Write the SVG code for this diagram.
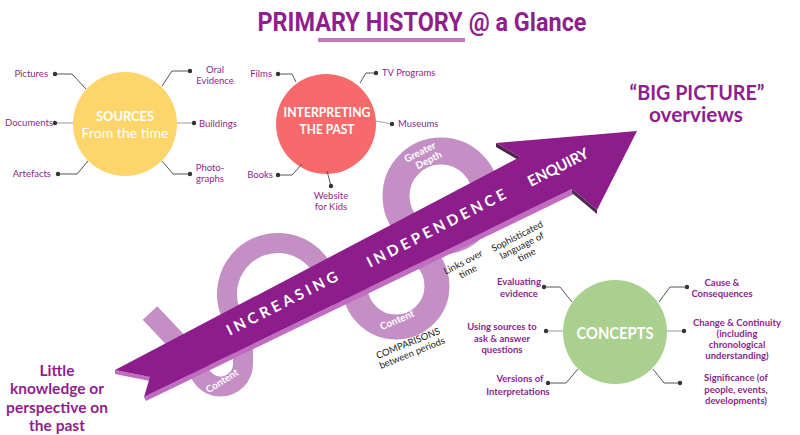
<svg xmlns="http://www.w3.org/2000/svg" width="800" height="435" viewBox="0 0 800 435">
<style>
.t{font-family:Lato,"Liberation Sans",sans-serif;fill:#8e1f8c}
.lbl{font-size:9.5px}
.clb{font-size:9.5px;font-weight:700}
.w{fill:#fff;font-family:Lato,"Liberation Sans",sans-serif;font-weight:700}
.blk{font-family:Lato,"Liberation Sans",sans-serif;font-size:9.5px;fill:#222}
.ld{stroke:#555;stroke-width:1;fill:none}
.lg{stroke:#aaa;stroke-width:1.2;fill:none}
.dot{fill:#333}
.ring{fill:none;stroke:#c48fc4}
</style>
<rect width="800" height="435" fill="#fff"/>

<g id="title">
<text x="422" y="31" text-anchor="middle" font-family="Roboto,'Liberation Sans',sans-serif" font-weight="700" font-size="25" fill="#8e1f8c" textLength="329" lengthAdjust="spacingAndGlyphs">PRIMARY HISTORY @ a Glance</text>
<rect x="318" y="38" width="147" height="4" fill="#c07bc0"/>
</g>

<g id="spiral">
<path class="ring" stroke-width="20" d="M150,313 L198,364 A22,22 0 0 0 243,364 L243,331 A51,51 0 1 1 329,294 L342,296"/>
<circle class="ring" stroke-width="25" cx="396" cy="286" r="41"/>
<circle class="ring" stroke-width="27" cx="441" cy="196" r="45"/>
</g>

<g id="arrow">
<polygon points="115,370 150,377 150,381 115,374" fill="#c06cc0"/>
<polygon points="144,397 572,189 574,194 146,401" fill="#c06cc0"/>
<polygon points="496,143 520,157 520,161 496,147" fill="#4a2a4a"/>
<polygon points="572,189 597,210 597,214 572,193" fill="#4a2a4a"/>
<polygon points="115,370 520,157 496,143 637,131 597,210 572,189 144,397 150,377" fill="#8c1d8a"/>
<g transform="translate(282,303) rotate(-27)"><text class="w" x="0" y="5.5" font-size="15" text-anchor="middle" textLength="123" lengthAdjust="spacing">INCREASING</text></g>
<g transform="translate(436,228) rotate(-27)"><text class="w" x="0" y="5.5" font-size="15" text-anchor="middle" textLength="154" lengthAdjust="spacing">INDEPENDENCE</text></g>
<g transform="translate(558,167) rotate(-27)"><text class="w" x="0" y="5.5" font-size="15" text-anchor="middle" textLength="66" lengthAdjust="spacing">ENQUIRY</text></g>
</g>

<g id="ring-labels">
<g transform="translate(222,381) rotate(-32)"><text class="w" x="0" y="3.5" font-size="10" text-anchor="middle">Content</text></g>
<g transform="translate(397,320) rotate(-23)"><text class="w" x="0" y="3.5" font-size="10" text-anchor="middle">Content</text></g>
<g transform="translate(420,152) rotate(-27)"><text class="w" x="0" y="3.5" font-size="10" text-anchor="middle">Greater</text><text class="w" x="4" y="14.5" font-size="10" text-anchor="middle">Depth</text></g>
</g>

<g id="arrow-notes">
<g transform="translate(463,262) rotate(-27)"><text class="blk" x="0" y="3.5" text-anchor="middle">Links over</text><text class="blk" x="0" y="14" text-anchor="middle">time</text></g>
<g transform="translate(517,236) rotate(-27)"><text class="blk" x="0" y="3.5" text-anchor="middle">Sophisticated</text><text class="blk" x="0" y="14" text-anchor="middle">language of</text><text class="blk" x="0" y="24.5" text-anchor="middle">time</text></g>
<g transform="translate(408,343) rotate(-22)"><text class="blk" x="0" y="3.5" text-anchor="middle">COMPARISONS</text><text class="blk" x="0" y="14" text-anchor="middle">between periods</text></g>
</g>

<g id="sources">
<circle cx="125" cy="124" r="52" fill="#fdd56b"/>
<text class="w" x="125" y="121" font-size="12.5" text-anchor="middle" textLength="58" lengthAdjust="spacingAndGlyphs">SOURCES</text>
<text x="125" y="138" font-size="12.5" text-anchor="middle" fill="#fff" font-family="Lato,'Liberation Sans',sans-serif" textLength="87" lengthAdjust="spacingAndGlyphs">From the time</text>
<polyline class="ld" points="55,74 72,74 86,89"/><circle class="dot" cx="55" cy="74" r="2.2"/>
<text class="t lbl" x="48" y="77" text-anchor="end">Pictures</text>
<line class="lg" x1="55" y1="123" x2="73" y2="123"/><circle class="dot" cx="55" cy="123" r="2.2"/>
<text class="t lbl" x="53" y="126" text-anchor="end">Documents</text>
<polyline class="ld" points="58,174 77,174 88,161"/><circle class="dot" cx="58" cy="174" r="2.2"/>
<text class="t lbl" x="51" y="177" text-anchor="end">Artefacts</text>
<polyline class="ld" points="162,86 172,71 190,71"/><circle class="dot" cx="190" cy="71" r="2.2"/>
<text class="t lbl" x="215" y="73" text-anchor="middle">Oral</text><text class="t lbl" x="215" y="84" text-anchor="middle">Evidence</text>
<line class="lg" x1="177" y1="123" x2="194" y2="123"/><circle class="dot" cx="194" cy="123" r="2.2"/>
<text class="t lbl" x="199" y="127">Buildings</text>
<polyline class="ld" points="162,161 173,174 190,174"/><circle class="dot" cx="190" cy="174" r="2.2"/>
<text class="t lbl" x="210" y="171" text-anchor="middle">Photo-</text><text class="t lbl" x="210" y="182" text-anchor="middle">graphs</text>
</g>

<g id="interpreting">
<circle cx="326" cy="124" r="50" fill="#f7696a"/>
<text class="w" x="327" y="117" font-size="12.5" text-anchor="middle" textLength="87" lengthAdjust="spacingAndGlyphs">INTERPRETING</text>
<text class="w" x="327" y="134" font-size="12.5" text-anchor="middle" textLength="55" lengthAdjust="spacingAndGlyphs">THE PAST</text>
<polyline class="ld" points="278,74 292,74 296,82"/><circle class="dot" cx="278" cy="74" r="2.2"/>
<text class="t lbl" x="272" y="77" text-anchor="end">Films</text>
<polyline class="ld" points="360,83 366,73 376,73"/><circle class="dot" cx="376" cy="73" r="2.2"/>
<text class="t lbl" x="382" y="76">TV Programs</text>
<line class="lg" x1="376" y1="121" x2="392" y2="124"/><circle class="dot" cx="392" cy="124" r="2.2"/>
<text class="t lbl" x="398" y="127">Museums</text>
<polyline class="ld" points="278,175 292,175 302,164"/><circle class="dot" cx="278" cy="175" r="2.2"/>
<text class="t lbl" x="273" y="178" text-anchor="end">Books</text>
<line class="ld" x1="327" y1="171" x2="331" y2="186"/><circle class="dot" cx="331" cy="186" r="2.2"/>
<text class="t lbl" x="331" y="199" text-anchor="middle">Website</text><text class="t lbl" x="331" y="210" text-anchor="middle">for Kids</text>
</g>

<g id="concepts">
<circle cx="615" cy="332" r="52" fill="#a9d08e"/>
<text class="w" x="615" y="339" font-size="17" text-anchor="middle" textLength="77" lengthAdjust="spacingAndGlyphs">CONCEPTS</text>
<polyline class="ld" points="544,287 560,287 572,302"/><circle class="dot" cx="544" cy="287" r="2.2"/>
<text class="t clb" x="519" y="285" text-anchor="middle">Evaluating</text><text class="t clb" x="519" y="297" text-anchor="middle">evidence</text>
<line class="lg" x1="546" y1="331" x2="563" y2="331"/><circle class="dot" cx="546" cy="331" r="2.2"/>
<text class="t clb" x="502" y="330" text-anchor="middle">Using sources to</text><text class="t clb" x="502" y="342" text-anchor="middle">ask &amp; answer</text><text class="t clb" x="502" y="353" text-anchor="middle">questions</text>
<polyline class="ld" points="548,383 566,383 578,369"/><circle class="dot" cx="548" cy="383" r="2.2"/>
<text class="t clb" x="520" y="382" text-anchor="middle">Versions of</text><text class="t clb" x="518" y="395" text-anchor="middle">Interpretations</text>
<polyline class="ld" points="659,302 670,287 687,287"/><circle class="dot" cx="687" cy="287" r="2.2"/>
<text class="t clb" x="722" y="286" text-anchor="middle">Cause &amp;</text><text class="t clb" x="722" y="297" text-anchor="middle">Consequences</text>
<line class="lg" x1="667" y1="331" x2="684" y2="331"/><circle class="dot" cx="684" cy="331" r="2.2"/>
<text class="t clb" x="737" y="326" text-anchor="middle">Change &amp; Continuity</text><text class="t clb" x="737" y="337" text-anchor="middle">(including</text><text class="t clb" x="737" y="348" text-anchor="middle">chronological</text><text class="t clb" x="737" y="359" text-anchor="middle">understanding)</text>
<polyline class="ld" points="653,369 664,383 680,383"/><circle class="dot" cx="680" cy="383" r="2.2"/>
<text class="t clb" x="736" y="381" text-anchor="middle">Significance (of</text><text class="t clb" x="736" y="393" text-anchor="middle">people, events,</text><text class="t clb" x="736" y="404" text-anchor="middle">developments)</text>
</g>

<g id="big-picture">
<text class="t" x="697" y="100" font-size="20" font-weight="700" text-anchor="middle" textLength="135" lengthAdjust="spacingAndGlyphs">“BIG PICTURE”</text>
<text class="t" x="696" y="122" font-size="20" font-weight="700" text-anchor="middle" textLength="94" lengthAdjust="spacingAndGlyphs">overviews</text>
</g>

<g id="little-knowledge">
<text class="t" font-size="15.5" font-weight="700" text-anchor="middle"><tspan x="57" y="376">Little</tspan><tspan x="57" y="394">knowledge or</tspan><tspan x="57" y="413">perspective on</tspan><tspan x="57" y="431">the past</tspan></text>
</g>
</svg>
